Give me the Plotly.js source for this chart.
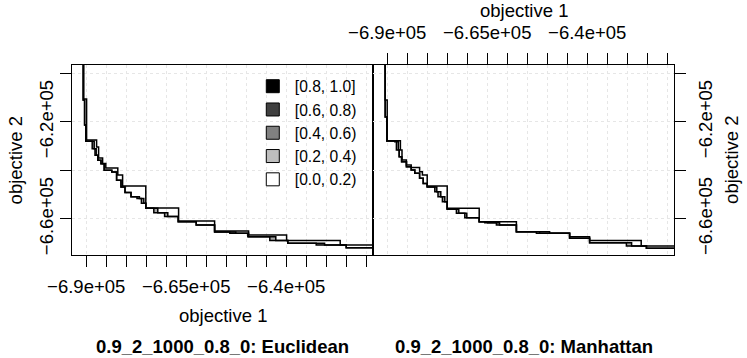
<!DOCTYPE html>
<html>
<head>
<meta charset="utf-8">
<script src="https://cdn.plot.ly/plotly-3.0.1.min.js"></script>
<style>
  html, body { margin: 0; padding: 0; background: #fff; }
  #chart { width: 747px; height: 358px; }
</style>
</head>
<body>
<div id="chart"></div>
<script>
// attainment surfaces (objective 1, objective 2)
// Euclidean panel
const euclWorstX = [-690600, -690600, -689900, -687400, -686900, -685900, -685100, -682100, -680900, -675100, -666900, -657900, -649400, -639900, -626500, -618000];
const euclWorstY = [-594000, -610600, -627500, -630400, -634900, -637200, -639100, -641900, -646500, -655600, -660900, -665000, -666700, -669000, -670800, -670800];

const euclMidX = [-690750, -690750, -690400, -690100, -688000, -687500, -687100, -686300, -685500, -683600, -682400, -681300, -680300, -678800, -676700, -675600, -675100, -672100, -669600, -667000, -662500, -657900, -652600, -649400, -642600, -639600, -630400, -625000, -618000];
const euclMidY = [-594000, -611000, -621300, -628000, -631100, -633800, -635900, -637300, -640000, -640700, -644100, -646900, -649200, -650900, -651600, -653600, -655700, -657500, -659100, -661200, -662600, -665400, -666000, -667400, -669000, -670100, -670800, -671900, -672000];

const euclBestX = [-690750, -690750, -690400, -690100, -688500, -687800, -687100, -686300, -685500, -683600, -682400, -681300, -680300, -678800, -677300, -676200, -675100, -673100, -670400, -667000, -662500, -657900, -654100, -649600, -644100, -639600, -632500, -625000, -618000];
const euclBestY = [-594000, -611000, -621300, -628000, -631100, -633800, -635900, -637300, -640000, -640700, -644100, -646900, -649200, -650900, -651600, -653600, -655700, -657500, -659100, -661200, -662600, -665400, -666000, -667400, -669000, -670100, -670800, -671900, -672000];

// Manhattan panel
const manhWorstX = [-690600, -690500, -690000, -686700, -686300, -685200, -684000, -681900, -681200, -680000, -675000, -667000, -657700, -649400, -644400, -639400, -626500, -618000];
const manhWorstY = [-594000, -611000, -627800, -631600, -635800, -637800, -638800, -640600, -641900, -646500, -655700, -661200, -665300, -666000, -667400, -669000, -671200, -671200];

const manhMidX = [-690600, -690500, -690100, -687600, -687200, -687000, -686400, -685200, -684000, -683100, -681900, -681000, -680000, -677600, -676600, -675600, -675000, -672100, -670100, -667000, -664900, -661900, -657700, -651900, -644400, -639400, -628900, -625200, -618000];
const manhMidY = [-594000, -618000, -627900, -628200, -631600, -634400, -636500, -638500, -639900, -641200, -643300, -645400, -646900, -648800, -650900, -653000, -656100, -657700, -659600, -661200, -661600, -662600, -665300, -666000, -668000, -669900, -671200, -672200, -672300];

const manhBestX = [-690600, -690500, -690100, -688100, -687700, -687000, -686400, -685200, -684000, -683100, -681900, -681000, -680000, -678100, -677300, -676200, -675000, -672700, -670600, -667000, -665600, -662700, -657700, -652700, -644400, -639400, -630200, -625200, -618000];
const manhBestY = [-594000, -618000, -627900, -628200, -631600, -634400, -636500, -638500, -639900, -641200, -643300, -645400, -646900, -648800, -650900, -653000, -656100, -657700, -659600, -661200, -661600, -662600, -665300, -666000, -668000, -669900, -671200, -672200, -672300];

// legend levels
const levels = ['[0.8, 1.0]', '[0.6, 0.8)', '[0.4, 0.6)', '[0.2, 0.4)', '[0.0, 0.2)'];
const levelColors = ['#000000', '#404040', '#808080', '#bebebe', '#ffffff'];

// axis ticks
const xTicks = [-690000, -685000, -680000, -675000, -670000, -665000, -660000, -655000, -650000, -645000, -640000, -635000, -630000, -625000, -620000];
const xLabels = ['\u22126.9e+05', '', '', '', '', '\u22126.65e+05', '', '', '', '', '\u22126.4e+05', '', '', '', ''];
const yTicks = [-660000, -640000, -620000, -600000];
const yLabels = ['\u22126.6e+05', '', '\u22126.2e+05', ''];

const xRange = [-693550, -618300];
const yRange = [-674935, -596577];

const FONT = 'Liberation Sans, Arial, Helvetica, sans-serif';

function surface(x, y, xa, ya, fill) {
    let t = {
        x: x, y: y, xaxis: xa, yaxis: ya,
        mode: 'lines',
        line: {shape: 'hv', color: '#000', width: 1.5},
        showlegend: false,
        hoverinfo: 'skip'
    };
    if (fill) {
        t.fill = 'tonexty';
        t.fillcolor = '#a6a6a6';
    }
    return t;
}

let traces = [
    surface(euclWorstX, euclWorstY, 'x', 'y', false),
    surface(euclMidX, euclMidY, 'x', 'y', false),
    surface(euclBestX, euclBestY, 'x', 'y', true),
    surface(manhWorstX, manhWorstY, 'x2', 'y2', false),
    surface(manhMidX, manhMidY, 'x2', 'y2', false),
    surface(manhBestX, manhBestY, 'x2', 'y2', true)
];

// legend entries
for (let i = 0; i < levels.length; i++) {
    traces.push({
        x: [null], y: [null], xaxis: 'x', yaxis: 'y',
        mode: 'markers',
        name: levels[i],
        marker: {symbol: 'square', size: 13, color: levelColors[i], line: {color: '#000', width: 1}}
    });
}

const axisCommon = {
    ticks: 'outside',
    ticklen: 11,
    tickwidth: 1,
    tickcolor: '#000',
    showline: true,
    linecolor: '#000',
    linewidth: 1,
    mirror: true,
    showgrid: true,
    gridcolor: '#e6e6e6',
    griddash: 'dot',
    gridwidth: 1,
    zeroline: false,
    tickfont: {size: 18.5, color: '#000'},
    fixedrange: true
};

let layout = {
    width: 747,
    height: 358,
    margin: {l: 72, r: 73, t: 65, b: 103},
    paper_bgcolor: '#fff',
    plot_bgcolor: '#fff',
    font: {family: FONT, color: '#000', size: 18.5},
    xaxis: Object.assign({}, axisCommon, {domain: [0, 0.5], range: xRange, tickvals: xTicks, ticktext: xLabels, anchor: 'y', side: 'bottom', ticklabelstandoff: 4}),
    yaxis: Object.assign({}, axisCommon, {domain: [0, 1], range: yRange, tickvals: yTicks, ticktext: yLabels, anchor: 'x', side: 'left', tickangle: -90}),
    xaxis2: Object.assign({}, axisCommon, {domain: [0.5, 1], range: xRange, tickvals: xTicks, ticktext: xLabels, anchor: 'y2', side: 'top', ticklabelstandoff: 7}),
    yaxis2: Object.assign({}, axisCommon, {domain: [0, 1], range: yRange, tickvals: yTicks, ticktext: yLabels, anchor: 'x2', side: 'right', tickangle: -90, ticklabelstandoff: 4}),
    showlegend: true,
    legend: {
        x: 0.297, y: 0.976, xanchor: 'left', yanchor: 'top',
        traceorder: 'normal',
        bgcolor: 'rgba(0,0,0,0)',
        font: {size: 15.6, family: FONT},
        tracegroupgap: 0,
        itemwidth: 34
    },
    annotations: [
        {text: 'objective 1', xref: 'paper', yref: 'paper', x: 0.25, y: -0.316, xanchor: 'center', yanchor: 'middle', showarrow: false},
        {text: 'objective 1', xref: 'paper', yref: 'paper', x: 0.75, y: 1.289, xanchor: 'center', yanchor: 'middle', showarrow: false},
        {text: 'objective 2', xref: 'paper', yref: 'paper', x: -0.094, y: 0.5, xanchor: 'center', yanchor: 'middle', textangle: -90, showarrow: false},
        {text: 'objective 2', xref: 'paper', yref: 'paper', x: 1.0945, y: 0.5, xanchor: 'center', yanchor: 'middle', textangle: -90, showarrow: false},
        {text: '<b>0.9_2_1000_0.8_0: Euclidean</b>', xref: 'paper', yref: 'paper', x: 0.25, y: -0.484, xanchor: 'center', yanchor: 'middle', showarrow: false},
        {text: '<b>0.9_2_1000_0.8_0: Manhattan</b>', xref: 'paper', yref: 'paper', x: 0.75, y: -0.484, xanchor: 'center', yanchor: 'middle', showarrow: false}
    ]
};

Plotly.newPlot('chart', traces, layout, {displayModeBar: false, staticPlot: true});
</script>
</body>
</html>
